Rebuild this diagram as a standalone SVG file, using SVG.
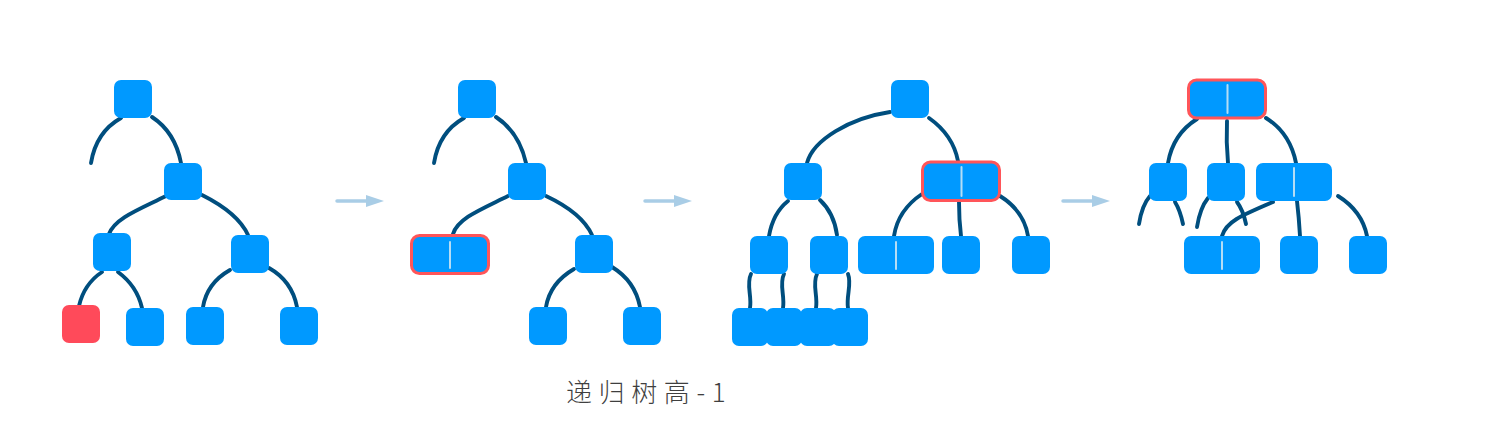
<svg xmlns="http://www.w3.org/2000/svg" width="1487" height="444" viewBox="0 0 1487 444">
<defs>
<style>
.n{fill:#0099FF}
.r{fill:#FF4A5A}
.d{fill:#0099FF;stroke:#FF5559;stroke-width:3}
.v{stroke:#B5DDF5;stroke-width:2;stroke-linecap:round}
.e{fill:none;stroke:#004E7E;stroke-width:3.9;stroke-linecap:round}
.a{stroke:#A9CDE6;stroke-width:3.5;stroke-linecap:round}
.ah{fill:#A9CDE6}
.t{font-family:"Noto Sans CJK SC","Noto Sans",sans-serif;font-size:26px;font-weight:300;fill:#3F3F3F;letter-spacing:6.6px}
</style>
</defs>
<rect width="1487" height="444" fill="#FFFFFF"/>
<g id="connectors">
<!-- panel 1 -->
<path class="e" d="M121,118 Q96,132 91,163"/>
<path class="e" d="M152,117 Q175,132 181,163"/>
<path class="e" d="M166,196 C140,209 115,218 109,234"/>
<path class="e" d="M202,195 Q238,213 248,235"/>
<path class="e" d="M102,272 Q84,284 79,306"/>
<path class="e" d="M118,272 Q137,286 142,308"/>
<path class="e" d="M230,270 Q207,283 203,307"/>
<path class="e" d="M269,268 Q292,281 297,307"/>
<!-- panel 2 -->
<path class="e" d="M464,118 Q439,132 434,163"/>
<path class="e" d="M496,117 Q519,132 526,163"/>
<path class="e" d="M508,196 C482,209 458,218 453,234"/>
<path class="e" d="M546,196 Q582,213 592,235"/>
<path class="e" d="M574,269 Q550,283 546,307"/>
<path class="e" d="M612,267 Q635,281 640,307"/>
<!-- panel 3 -->
<path class="e" d="M890,112 C850,118 813,140 807,163"/>
<path class="e" d="M929,118 Q953,135 958,161"/>
<path class="e" d="M788,201 Q773,213 769,236"/>
<path class="e" d="M820,200 Q834,213 837,235"/>
<path class="e" d="M922,194 Q898,210 894,236"/>
<path class="e" d="M959,202 Q959,220 961,236"/>
<path class="e" d="M1000,196 Q1024,211 1028,236"/>
<path class="e" d="M751,274 C746,284 752,296 750,308"/>
<path class="e" d="M784,274 C779,284 785,296 783,308"/>
<path class="e" d="M817,274 C812,284 818,296 816,308"/>
<path class="e" d="M848,274 C852,284 846,296 848,308"/>
<!-- panel 4 -->
<path class="e" d="M1197,119 Q1173,134 1168,163"/>
<path class="e" d="M1227,121 Q1226,142 1228,163"/>
<path class="e" d="M1266,118 Q1290,133 1296,163"/>
<path class="e" d="M1150,196 Q1142,205 1139,224"/>
<path class="e" d="M1175,202 Q1180,210 1183,224"/>
<path class="e" d="M1208,198 Q1200,208 1197,227"/>
<path class="e" d="M1237,202 Q1243,210 1246,224"/>
<path class="e" d="M1273,202 C1240,216 1226,222 1222,236"/>
<path class="e" d="M1297,201 Q1299,218 1300,236"/>
<path class="e" d="M1338,196 Q1362,211 1367,236"/>
<!-- arrows -->
<line class="a" x1="337" y1="201" x2="368" y2="201"/>
<polygon class="ah" points="366,195 384,201 366,207"/>
<line class="a" x1="645" y1="201" x2="676" y2="201"/>
<polygon class="ah" points="674,195 692,201 674,207"/>
<line class="a" x1="1063" y1="201" x2="1094" y2="201"/>
<polygon class="ah" points="1092,195 1110,201 1092,207"/>
</g>
<!-- panel 1 nodes -->
<g id="p1-root"><rect class="n" x="114" y="80" width="38" height="38" rx="7"/></g>
<g id="p1-n2"><rect class="n" x="164" y="163" width="38" height="37" rx="7"/></g>
<g id="p1-n3"><rect class="n" x="93" y="233" width="38" height="38" rx="7"/></g>
<g id="p1-n4"><rect class="n" x="231" y="235" width="38" height="38" rx="7"/></g>
<g id="p1-red"><rect class="r" x="62" y="305" width="38" height="38" rx="7"/></g>
<g id="p1-l2"><rect class="n" x="126" y="308" width="38" height="38" rx="7"/></g>
<g id="p1-l3"><rect class="n" x="186" y="307" width="38" height="38" rx="7"/></g>
<g id="p1-l4"><rect class="n" x="280" y="307" width="38" height="38" rx="7"/></g>
<!-- panel 2 nodes -->
<g id="p2-root"><rect class="n" x="458" y="80" width="38" height="38" rx="7"/></g>
<g id="p2-n2"><rect class="n" x="508" y="163" width="38" height="37" rx="7"/></g>
<g id="p2-merged"><rect class="d" x="411.5" y="235.5" width="77" height="38" rx="8"/><line class="v" x1="450" y1="242" x2="450" y2="268"/></g>
<g id="p2-n4"><rect class="n" x="575" y="235" width="38" height="38" rx="7"/></g>
<g id="p2-l1"><rect class="n" x="529" y="307" width="38" height="38" rx="7"/></g>
<g id="p2-l2"><rect class="n" x="623" y="307" width="38" height="38" rx="7"/></g>
<!-- panel 3 nodes -->
<g id="p3-root"><rect class="n" x="891" y="80" width="38" height="38" rx="7"/></g>
<g id="p3-left"><rect class="n" x="784" y="163" width="38" height="37" rx="7"/></g>
<g id="p3-merged"><rect class="d" x="922.5" y="162" width="77" height="38.5" rx="8"/><line class="v" x1="961.5" y1="167" x2="961.5" y2="196"/></g>
<g id="p3-a"><rect class="n" x="750" y="236" width="38" height="38" rx="7"/></g>
<g id="p3-b"><rect class="n" x="810" y="236" width="38" height="38" rx="7"/></g>
<g id="p3-c"><rect class="n" x="858" y="236" width="76" height="38" rx="7"/><line class="v" x1="896" y1="242" x2="896" y2="269"/></g>
<g id="p3-d"><rect class="n" x="942" y="236" width="38" height="38" rx="7"/></g>
<g id="p3-e"><rect class="n" x="1012" y="236" width="38" height="38" rx="7"/></g>
<g id="p3-l1"><rect class="n" x="732" y="308" width="36" height="38" rx="7"/></g>
<g id="p3-l2"><rect class="n" x="766" y="308" width="36" height="38" rx="7"/></g>
<g id="p3-l3"><rect class="n" x="800" y="308" width="36" height="38" rx="7"/></g>
<g id="p3-l4"><rect class="n" x="832" y="308" width="36" height="38" rx="7"/></g>
<!-- panel 4 nodes -->
<g id="p4-root"><rect class="d" x="1188.5" y="80" width="77" height="38" rx="8"/><line class="v" x1="1227.5" y1="85" x2="1227.5" y2="113"/></g>
<g id="p4-a"><rect class="n" x="1149" y="163" width="38" height="38" rx="7"/></g>
<g id="p4-b"><rect class="n" x="1207" y="163" width="38" height="38" rx="7"/></g>
<g id="p4-c"><rect class="n" x="1256" y="163" width="76" height="38" rx="7"/><line class="v" x1="1294" y1="168" x2="1294" y2="196"/></g>
<g id="p4-d"><rect class="n" x="1184" y="236" width="76" height="38" rx="7"/><line class="v" x1="1222" y1="242" x2="1222" y2="269"/></g>
<g id="p4-e"><rect class="n" x="1280" y="236" width="38" height="38" rx="7"/></g>
<g id="p4-f"><rect class="n" x="1349" y="236" width="38" height="38" rx="7"/></g>
<g id="caption"><text class="t" x="566" y="402">递归树高-1</text></g>
</svg>
